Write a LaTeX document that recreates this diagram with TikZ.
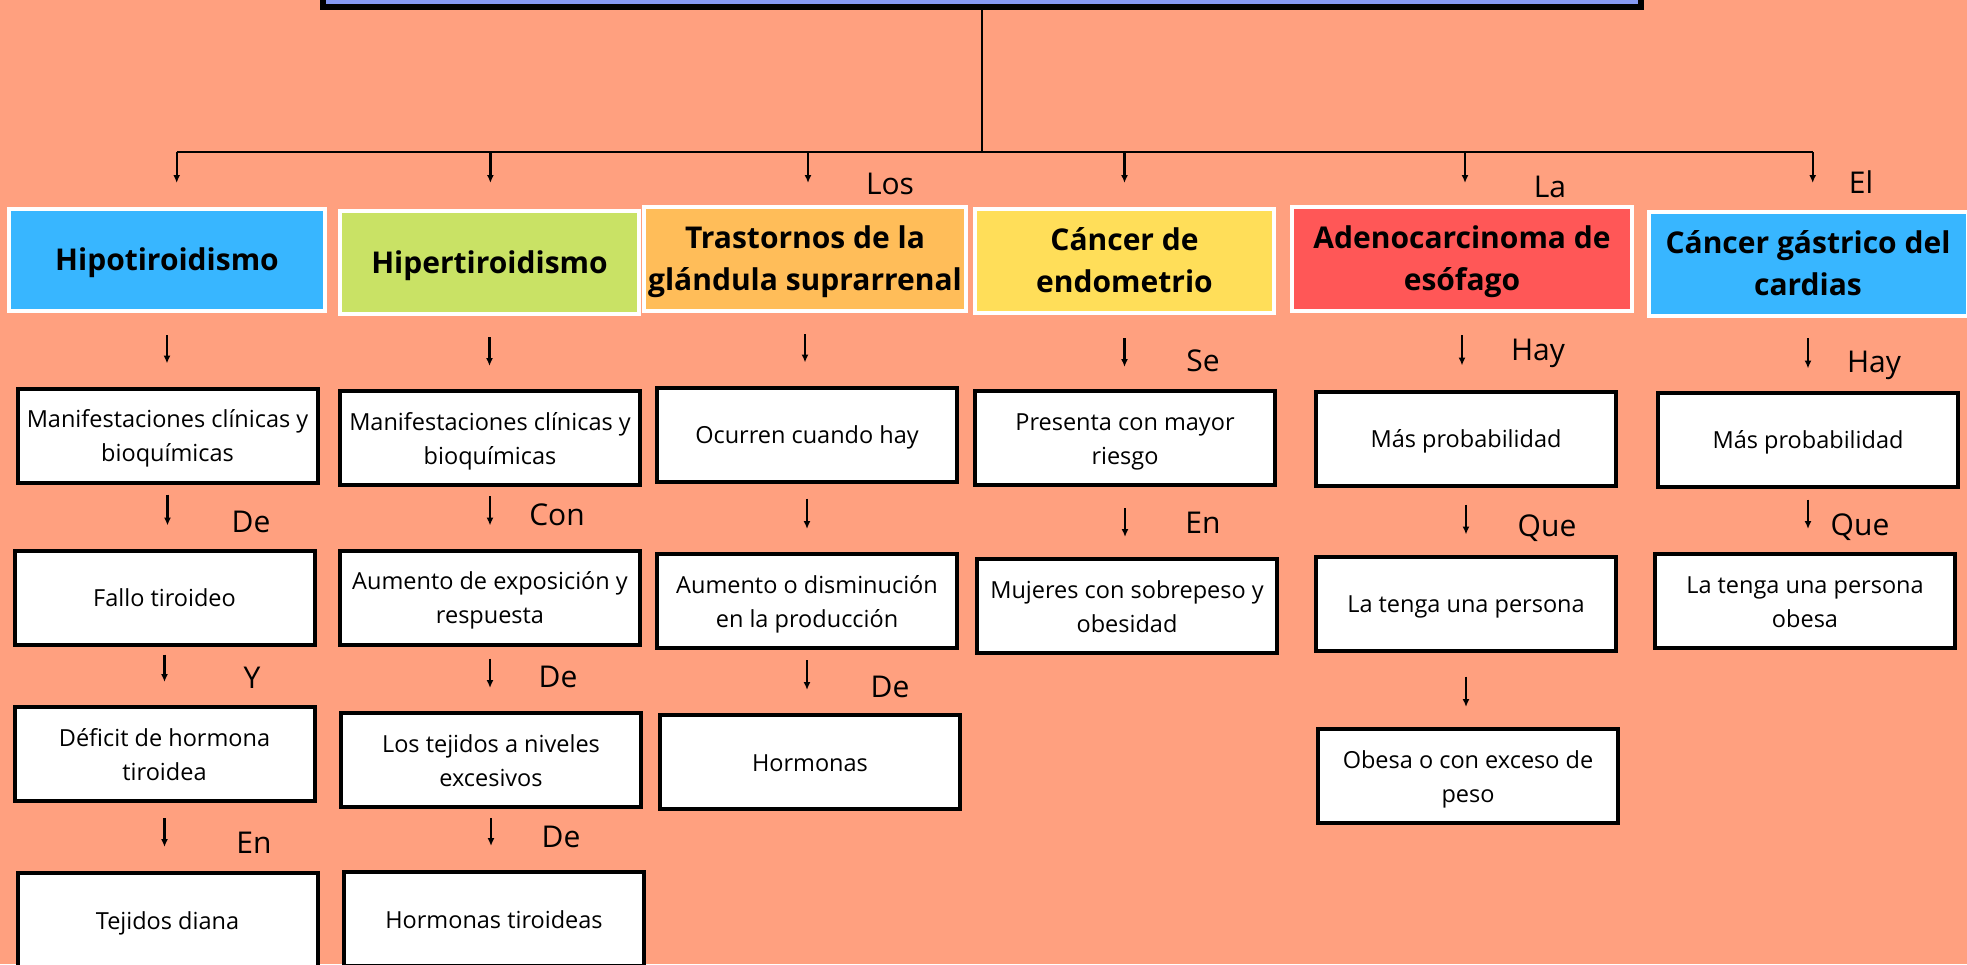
\documentclass[tikz,border=0pt]{standalone}
\usepackage{fontspec}
\setmainfont{Open Sans}
\usetikzlibrary{arrows.meta}
\definecolor{fondo}{HTML}{FFA07F}
\definecolor{lila}{HTML}{8599F2}
\definecolor{celeste}{HTML}{38B6FF}
\definecolor{verde}{HTML}{C9E265}
\definecolor{naranja}{HTML}{FFBD59}
\definecolor{amarillo}{HTML}{FFDE59}
\definecolor{rojo}{HTML}{FF5757}
\newcommand{\rcaja}{\rule[-8pt]{0pt}{34pt}}
\newcommand{\rtema}{\rule[-10pt]{0pt}{41pt}}
\tikzset{
  titulo/.style={draw=black, line width=6pt, fill=lila, minimum width=1318pt, minimum height=94pt},
  tema/.style={draw=white, line width=4pt, inner sep=0pt, align=center, font=\fontsize{30}{42}\selectfont\bfseries,
    execute at end node=\rtema},
  caja/.style={draw=black, line width=4pt, fill=white, inner sep=0pt, minimum width=300pt, minimum height=94pt, align=center, font=\fontsize{23.5}{34}\selectfont,
    execute at end node=\rcaja},
  conector/.style={anchor=base, inner sep=0pt, font=\fontsize{30}{36}\selectfont},
  linea/.style={line width=2pt},
  flecha/.style={line width=2.4pt, -{Latex[length=8pt,width=7pt]}},
}
\begin{document}
\begin{tikzpicture}[x=1pt,y=-1pt]
      \fill[fondo] (0,0) rectangle (1967,964);
      \useasboundingbox (0,0) rectangle (1967,964);
      \node[titulo] (titulo) at (982,-40) {};
      % temas
      \node[tema, fill=celeste, minimum width=316pt, minimum height=102pt] (h1) at (167,260) {\rtema Hipotiroidismo};
      \node[tema, fill=verde, minimum width=299pt, minimum height=103pt] (h2) at (489.5,262.5) {\rtema Hipertiroidismo};
      \node[tema, fill=naranja, minimum width=322pt, minimum height=104pt] (h3) at (805,259) {\rtema Trastornos de la\\glándula suprarrenal};
      \node[tema, fill=amarillo, minimum width=299pt, minimum height=104pt] (h4) at (1124.5,261) {\rtema Cáncer de\\endometrio};
      \node[tema, fill=rojo, minimum width=340pt, minimum height=104pt] (h5) at (1462,259) {\rtema Adenocarcinoma de\\esófago};
      \node[tema, fill=celeste, minimum width=319pt, minimum height=104pt] (h6) at (1808,264) {\rtema Cáncer gástrico del\\cardias};
      % ramas
      \coordinate (bus) at (982,152);
      \coordinate (d1) at (176.7,152);
      \coordinate (d2) at (490.4,152);
      \coordinate (d3) at (808,152);
      \coordinate (d4) at (1124.5,152);
      \coordinate (d5) at (1465,152);
      \coordinate (d6) at (1812.7,152);
      \draw[linea] (titulo.south) -- (bus);
      \draw[linea] (d1) -- (d6);
      \draw[flecha, shorten >=24pt] (d1) -- (d1 |- h1.north);
      \draw[flecha, shorten >=26pt] (d2) -- (d2 |- h2.north);
      \draw[flecha, shorten >=22pt] (d3) -- (d3 |- h3.north);
      \draw[flecha, shorten >=24pt] (d4) -- (d4 |- h4.north);
      \draw[flecha, shorten >=22pt] (d5) -- (d5 |- h5.north);
      \draw[flecha, shorten >=27pt] (d6) -- (d6 |- h6.north);
      \node[conector] (los) at (890,194) {Los};
      \node[conector] (la) at (1550,197) {La};
      \node[conector] (el) at (1861,193) {El};
      % columna 1
      \node[caja] (c1a) at (167.5,435.5) {\rcaja Manifestaciones clínicas y\\bioquímicas};
      \node[caja] (c1b) at (164.5,597.5) {\rcaja Fallo tiroideo};
      \node[caja] (c1c) at (164.5,754) {\rcaja Déficit de hormona\\tiroidea};
      \node[caja] (c1d) at (167.5,920) {\rcaja Tejidos diana};
      \draw[flecha, shorten <=22pt, shorten >=23pt] (h1.south) -- (h1.south |- c1a.north);
      \draw[flecha, shorten <=10pt, shorten >=23pt] (c1a.south) -- (c1a.south |- c1b.north);
      \draw[flecha, shorten <=8pt, shorten >=23pt] (c1b.south) -- (c1b.south |- c1c.north);
      \draw[flecha, shorten <=15pt, shorten >=24pt] (c1c.south) -- (c1c.south |- c1d.north);
      \node[conector] (de1) at (251,532) {De};
      \node[conector] (y1) at (252,688) {Y};
      \node[conector] (en1) at (254,853) {En};
      % columna 2
      \node[caja] (c2a) at (490,438) {\rcaja Manifestaciones clínicas y\\bioquímicas};
      \node[caja] (c2b) at (490,597.5) {\rcaja Aumento de exposición y\\respuesta};
      \node[caja] (c2c) at (491,760) {\rcaja Los tejidos a niveles\\excesivos};
      \node[caja] (c2d) at (494,919) {\rcaja Hormonas tiroideas};
      \draw[flecha, shorten <=21pt, shorten >=23pt] (h2.south) -- (h2.south |- c2a.north);
      \draw[flecha, shorten <=9pt, shorten >=23pt] (c2a.south) -- (c2a.south |- c2b.north);
      \draw[flecha, shorten <=12pt, shorten >=23pt] (c2b.south) -- (c2b.south |- c2c.north);
      \draw[flecha, shorten <=9pt, shorten >=24pt] (c2c.south) -- (c2c.south |- c2d.north);
      \node[conector] (con2) at (557,525) {Con};
      \node[conector] (de2) at (558,687) {De};
      \node[conector] (de3) at (561,847) {De};
      % columna 3
      \node[caja] (c3a) at (807,434.5) {\rcaja Ocurren cuando hay};
      \node[caja] (c3b) at (807,601) {\rcaja Aumento o disminución\\en la producción};
      \node[caja] (c3c) at (810,762) {\rcaja Hormonas};
      \draw[flecha, shorten <=21pt, shorten >=23pt] (h3.south) -- (h3.south |- c3a.north);
      \draw[flecha, shorten <=15pt, shorten >=23pt] (c3a.south) -- (c3a.south |- c3b.north);
      \draw[flecha, shorten <=10pt, shorten >=23pt] (c3b.south) -- (c3b.south |- c3c.north);
      \node[conector] (de4) at (890,697) {De};
      % columna 4
      \node[caja] (c4a) at (1125,438) {\rcaja Presenta con mayor\\riesgo};
      \node[caja] (c4b) at (1127,606) {\rcaja Mujeres con sobrepeso y\\obesidad};
      \draw[flecha, shorten <=23pt, shorten >=22pt] (h4.south) -- (h4.south |- c4a.north);
      \draw[flecha, shorten <=21pt, shorten >=20pt] (c4a.south) -- (c4a.south |- c4b.north);
      \node[conector] (se4) at (1203,371) {Se};
      \node[conector] (en4) at (1203,533) {En};
      % columna 5
      \node[caja] (c5a) at (1466,438.5) {\rcaja Más probabilidad};
      \node[caja] (c5b) at (1466,603.5) {\rcaja La tenga una persona};
      \node[caja] (c5c) at (1468,776) {\rcaja Obesa o con exceso de\\peso};
      \draw[flecha, shorten <=22pt, shorten >=24pt] (h5.south) -- (h5.south |- c5a.north);
      \draw[flecha, shorten <=17pt, shorten >=20pt] (c5a.south) -- (c5a.south |- c5b.north);
      \draw[flecha, shorten <=24pt, shorten >=20pt] (c5b.south) -- (c5b.south |- c5c.north);
      \node[conector] (hay5) at (1538,360) {Hay};
      \node[conector] (que5) at (1547,536) {Que};
      % columna 6
      \node[caja] (c6a) at (1808,439.5) {\rcaja Más probabilidad};
      \node[caja] (c6b) at (1805,601) {\rcaja La tenga una persona\\obesa};
      \draw[flecha, shorten <=20pt, shorten >=22pt] (h6.south) -- (h6.south |- c6a.north);
      \draw[flecha, shorten <=11pt, shorten >=23pt] (c6a.south) -- (c6a.south |- c6b.north);
      \node[conector] (hay6) at (1874,372) {Hay};
      \node[conector] (que6) at (1860,535) {Que};
\end{tikzpicture}
\end{document}
